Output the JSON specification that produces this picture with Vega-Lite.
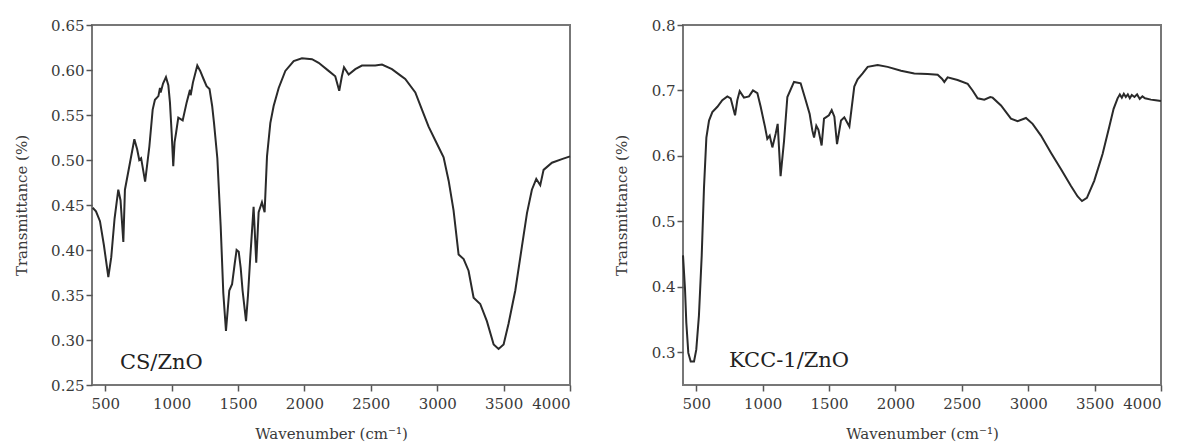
{
  "$schema": "https://vega.github.io/schema/vega-lite/v6.json",
  "padding": {"left": 13, "top": 17, "right": 5, "bottom": 0},
  "background": "white",
  "config": {
    "view": {"stroke": "#777", "strokeWidth": 2},
    "font": "DejaVu Serif",
    "axis": {"domain": false, "grid": false, "labelOverlap": false, "labelFont": "DejaVu Serif", "labelFontSize": 15, "labelColor": "#3a3a3a", "titleFont": "DejaVu Serif", "titleFontSize": 15, "titleFontWeight": "normal", "titleColor": "#3a3a3a", "tickColor": "#555", "tickWidth": 1.5}
  },
  "datasets": {
    "cs": [
      {"w": 405, "t": 0.447}, {"w": 430, "t": 0.443}, {"w": 460, "t": 0.432}, {"w": 490, "t": 0.405}, {"w": 523, "t": 0.37}, {"w": 545, "t": 0.392}, {"w": 570, "t": 0.435}, {"w": 598, "t": 0.467}, {"w": 615, "t": 0.455}, {"w": 636, "t": 0.409}, {"w": 648, "t": 0.467}, {"w": 686, "t": 0.497}, {"w": 719, "t": 0.523}, {"w": 740, "t": 0.512}, {"w": 756, "t": 0.5}, {"w": 770, "t": 0.502}, {"w": 800, "t": 0.476}, {"w": 832, "t": 0.515}, {"w": 857, "t": 0.556}, {"w": 874, "t": 0.567}, {"w": 900, "t": 0.571}, {"w": 912, "t": 0.58}, {"w": 917, "t": 0.575}, {"w": 935, "t": 0.585}, {"w": 957, "t": 0.592}, {"w": 975, "t": 0.583}, {"w": 987, "t": 0.564}, {"w": 1000, "t": 0.53}, {"w": 1012, "t": 0.493}, {"w": 1022, "t": 0.52}, {"w": 1033, "t": 0.53}, {"w": 1050, "t": 0.547}, {"w": 1083, "t": 0.544}, {"w": 1113, "t": 0.564}, {"w": 1138, "t": 0.578}, {"w": 1143, "t": 0.572}, {"w": 1160, "t": 0.586}, {"w": 1193, "t": 0.605}, {"w": 1215, "t": 0.599}, {"w": 1240, "t": 0.59}, {"w": 1263, "t": 0.582}, {"w": 1285, "t": 0.579}, {"w": 1305, "t": 0.56}, {"w": 1319, "t": 0.541}, {"w": 1344, "t": 0.502}, {"w": 1369, "t": 0.427}, {"w": 1389, "t": 0.352}, {"w": 1409, "t": 0.31}, {"w": 1434, "t": 0.355}, {"w": 1455, "t": 0.362}, {"w": 1475, "t": 0.385}, {"w": 1489, "t": 0.4}, {"w": 1505, "t": 0.398}, {"w": 1520, "t": 0.38}, {"w": 1534, "t": 0.355}, {"w": 1560, "t": 0.321}, {"w": 1575, "t": 0.35}, {"w": 1592, "t": 0.392}, {"w": 1617, "t": 0.448}, {"w": 1637, "t": 0.386}, {"w": 1655, "t": 0.442}, {"w": 1680, "t": 0.453}, {"w": 1700, "t": 0.442}, {"w": 1718, "t": 0.504}, {"w": 1743, "t": 0.541}, {"w": 1768, "t": 0.56}, {"w": 1806, "t": 0.58}, {"w": 1856, "t": 0.599}, {"w": 1919, "t": 0.61}, {"w": 1981, "t": 0.613}, {"w": 2057, "t": 0.612}, {"w": 2107, "t": 0.608}, {"w": 2182, "t": 0.599}, {"w": 2232, "t": 0.593}, {"w": 2262, "t": 0.577}, {"w": 2282, "t": 0.593}, {"w": 2298, "t": 0.603}, {"w": 2333, "t": 0.595}, {"w": 2383, "t": 0.601}, {"w": 2433, "t": 0.605}, {"w": 2533, "t": 0.605}, {"w": 2584, "t": 0.606}, {"w": 2659, "t": 0.601}, {"w": 2722, "t": 0.594}, {"w": 2759, "t": 0.59}, {"w": 2835, "t": 0.575}, {"w": 2885, "t": 0.556}, {"w": 2935, "t": 0.537}, {"w": 2985, "t": 0.522}, {"w": 3048, "t": 0.503}, {"w": 3086, "t": 0.477}, {"w": 3123, "t": 0.444}, {"w": 3161, "t": 0.395}, {"w": 3199, "t": 0.39}, {"w": 3236, "t": 0.377}, {"w": 3274, "t": 0.347}, {"w": 3324, "t": 0.34}, {"w": 3374, "t": 0.321}, {"w": 3425, "t": 0.295}, {"w": 3462, "t": 0.29}, {"w": 3500, "t": 0.295}, {"w": 3537, "t": 0.318}, {"w": 3588, "t": 0.355}, {"w": 3638, "t": 0.404}, {"w": 3676, "t": 0.441}, {"w": 3713, "t": 0.467}, {"w": 3746, "t": 0.479}, {"w": 3776, "t": 0.472}, {"w": 3801, "t": 0.489}, {"w": 3864, "t": 0.497}, {"w": 3939, "t": 0.501}, {"w": 4000, "t": 0.504}
    ],
    "kcc": [
      {"w": 400, "t": 0.448}, {"w": 415, "t": 0.397}, {"w": 425, "t": 0.345}, {"w": 440, "t": 0.299}, {"w": 458, "t": 0.286}, {"w": 483, "t": 0.286}, {"w": 500, "t": 0.304}, {"w": 520, "t": 0.356}, {"w": 541, "t": 0.448}, {"w": 558, "t": 0.551}, {"w": 576, "t": 0.628}, {"w": 596, "t": 0.654}, {"w": 621, "t": 0.667}, {"w": 659, "t": 0.675}, {"w": 696, "t": 0.685}, {"w": 734, "t": 0.691}, {"w": 759, "t": 0.688}, {"w": 792, "t": 0.662}, {"w": 809, "t": 0.685}, {"w": 827, "t": 0.699}, {"w": 859, "t": 0.689}, {"w": 897, "t": 0.691}, {"w": 927, "t": 0.7}, {"w": 960, "t": 0.696}, {"w": 985, "t": 0.675}, {"w": 1018, "t": 0.644}, {"w": 1035, "t": 0.626}, {"w": 1053, "t": 0.631}, {"w": 1073, "t": 0.613}, {"w": 1098, "t": 0.634}, {"w": 1113, "t": 0.649}, {"w": 1135, "t": 0.569}, {"w": 1161, "t": 0.623}, {"w": 1186, "t": 0.69}, {"w": 1236, "t": 0.713}, {"w": 1286, "t": 0.711}, {"w": 1324, "t": 0.685}, {"w": 1354, "t": 0.664}, {"w": 1374, "t": 0.639}, {"w": 1387, "t": 0.628}, {"w": 1404, "t": 0.646}, {"w": 1420, "t": 0.64}, {"w": 1444, "t": 0.616}, {"w": 1462, "t": 0.657}, {"w": 1499, "t": 0.662}, {"w": 1520, "t": 0.67}, {"w": 1540, "t": 0.66}, {"w": 1560, "t": 0.618}, {"w": 1590, "t": 0.654}, {"w": 1615, "t": 0.659}, {"w": 1653, "t": 0.645}, {"w": 1690, "t": 0.706}, {"w": 1715, "t": 0.717}, {"w": 1753, "t": 0.726}, {"w": 1791, "t": 0.736}, {"w": 1866, "t": 0.739}, {"w": 1941, "t": 0.736}, {"w": 2042, "t": 0.73}, {"w": 2142, "t": 0.726}, {"w": 2242, "t": 0.725}, {"w": 2318, "t": 0.724}, {"w": 2350, "t": 0.718}, {"w": 2368, "t": 0.713}, {"w": 2393, "t": 0.72}, {"w": 2468, "t": 0.716}, {"w": 2544, "t": 0.71}, {"w": 2581, "t": 0.7}, {"w": 2619, "t": 0.688}, {"w": 2669, "t": 0.686}, {"w": 2714, "t": 0.69}, {"w": 2732, "t": 0.689}, {"w": 2795, "t": 0.677}, {"w": 2870, "t": 0.657}, {"w": 2920, "t": 0.653}, {"w": 2983, "t": 0.658}, {"w": 3033, "t": 0.649}, {"w": 3096, "t": 0.631}, {"w": 3171, "t": 0.605}, {"w": 3246, "t": 0.58}, {"w": 3322, "t": 0.554}, {"w": 3372, "t": 0.538}, {"w": 3405, "t": 0.531}, {"w": 3442, "t": 0.536}, {"w": 3497, "t": 0.562}, {"w": 3560, "t": 0.603}, {"w": 3610, "t": 0.644}, {"w": 3643, "t": 0.672}, {"w": 3673, "t": 0.688}, {"w": 3690, "t": 0.694}, {"w": 3705, "t": 0.689}, {"w": 3720, "t": 0.695}, {"w": 3735, "t": 0.69}, {"w": 3750, "t": 0.694}, {"w": 3765, "t": 0.688}, {"w": 3780, "t": 0.693}, {"w": 3800, "t": 0.69}, {"w": 3820, "t": 0.694}, {"w": 3840, "t": 0.687}, {"w": 3860, "t": 0.691}, {"w": 3880, "t": 0.688}, {"w": 3924, "t": 0.686}, {"w": 3960, "t": 0.685}, {"w": 4000, "t": 0.684}
    ]
  },
  "bounds": "flush",
  "spacing": 113,
  "hconcat": [
    {
      "width": 478,
      "height": 360,
      "layer": [
        {
          "data": {"name": "cs"},
          "mark": {"type": "line", "color": "#2a2a2a", "strokeWidth": 2},
          "encoding": {
            "x": {"field": "w", "type": "quantitative", "scale": {"domain": [400, 4000], "nice": false, "zero": false},
              "axis": {"title": "Wavenumber (cm⁻¹)", "values": [500, 750, 1000, 1250, 1500, 1750, 2000, 2250, 2500, 2750, 3000, 3250, 3500, 3750, 4000], "format": "d", "labelExpr": "datum.value % 500 == 0 ? datum.label : ''", "tickSize": {"condition": {"test": "datum.value % 500 == 0", "value": 6}, "value": 3}, "labelPadding": 5, "titlePadding": 15}},
            "y": {"field": "t", "type": "quantitative", "scale": {"domain": [0.25, 0.65], "nice": false, "zero": false},
              "axis": {"title": "Transmittance (%)", "values": [0.25, 0.275, 0.3, 0.325, 0.35, 0.375, 0.4, 0.425, 0.45, 0.475, 0.5, 0.525, 0.55, 0.575, 0.6, 0.625, 0.65], "format": ".2f", "labelExpr": "round(datum.value*1000) % 50 == 0 ? datum.label : ''", "tickSize": {"condition": {"test": "round(datum.value*1000) % 50 == 0", "value": 6}, "value": 3}, "labelPadding": 2, "titlePadding": 21}}
          }
        },
        {
          "data": {"values": [{"label": "CS/ZnO"}]},
          "mark": {"type": "text", "align": "left", "baseline": "alphabetic", "font": "DejaVu Serif", "fontSize": 21, "color": "#222"},
          "encoding": {"x": {"datum": 610}, "y": {"datum": 0.268}, "text": {"field": "label"}}
        }
      ]
    },
    {
      "width": 478,
      "height": 360,
      "layer": [
        {
          "data": {"name": "kcc"},
          "mark": {"type": "line", "color": "#2a2a2a", "strokeWidth": 2},
          "encoding": {
            "x": {"field": "w", "type": "quantitative", "scale": {"domain": [400, 4000], "nice": false, "zero": false},
              "axis": {"title": "Wavenumber (cm⁻¹)", "values": [500, 750, 1000, 1250, 1500, 1750, 2000, 2250, 2500, 2750, 3000, 3250, 3500, 3750, 4000], "format": "d", "labelExpr": "datum.value % 500 == 0 ? datum.label : ''", "tickSize": {"condition": {"test": "datum.value % 500 == 0", "value": 6}, "value": 3}, "labelPadding": 5, "titlePadding": 15}},
            "y": {"field": "t", "type": "quantitative", "scale": {"domain": [0.25, 0.8], "nice": false, "zero": false},
              "axis": {"title": "Transmittance (%)", "values": [0.3, 0.35, 0.4, 0.45, 0.5, 0.55, 0.6, 0.65, 0.7, 0.75, 0.8], "format": ".1f", "labelExpr": "round(datum.value*100) % 10 == 0 ? datum.label : ''", "tickSize": {"condition": {"test": "round(datum.value*100) % 10 == 0", "value": 6}, "value": 3}, "labelPadding": 2, "titlePadding": 22, "zindex": 2}}
          }
        },
        {
          "data": {"values": [{"label": "KCC-1/ZnO"}]},
          "mark": {"type": "text", "align": "left", "baseline": "alphabetic", "font": "DejaVu Serif", "fontSize": 21, "color": "#222"},
          "encoding": {"x": {"datum": 746}, "y": {"datum": 0.278}, "text": {"field": "label"}}
        }
      ]
    }
  ]
}
